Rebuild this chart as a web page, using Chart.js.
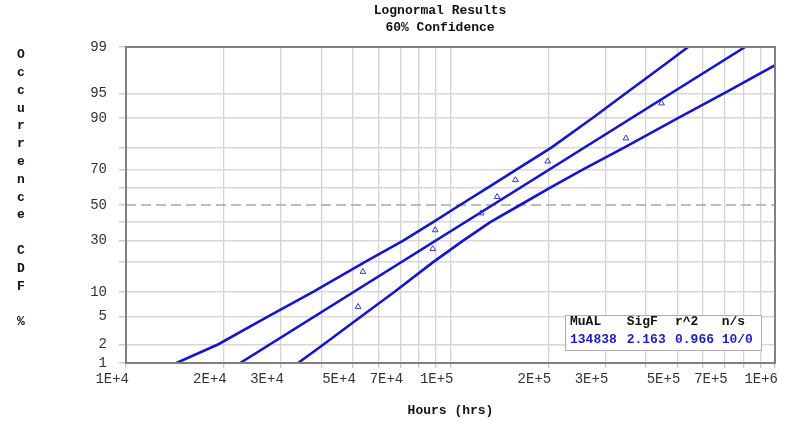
<!DOCTYPE html>
<html>
<head>
<meta charset="utf-8">
<script src="https://cdn.jsdelivr.net/npm/chart.js@4"></script>
<style>
html,body{margin:0;padding:0;background:#fff;}
#wrap{width:800px;height:429px;position:relative;}
</style>
</head>
<body>
<div id="wrap"><canvas id="c" width="800" height="429"></canvas></div>
<script>
// ---------- data ----------
const chartTitle = ['Lognormal Results', '60% Confidence'];
const yAxisTitle = 'Occurrence CDF %';
const xAxisTitle = 'Hours (hrs)';

const xTickValues = [10000,20000,30000,40000,50000,60000,70000,80000,90000,
                     100000,200000,300000,400000,500000,600000,700000,800000,900000,1000000];
const xTickLabels = ['1E+4','2E+4','3E+4','','5E+4','','7E+4','','',
                     '1E+5','2E+5','3E+5','','5E+5','','7E+5','','','1E+6'];

const yTickPcts   = [1,2,5,10,20,30,40,50,60,70,80,90,95,99];
const yTickLabels = ['1','2','5','10','','30','','50','','70','','90','95','99'];

const failureHours = [51900,53700,88200,89700,124300,139200,158500,199300,347200,446900];
const rankPcts     = [6.7,16.3,25.9,35.6,45.2,54.8,64.4,74.0,83.7,93.3];

const fitHours = [22470, 809000];
const fitPcts  = [1, 99];

const boundPcts       = [1,2,5,10,20,30,40,50,60,70,80,90,95,98,99];
const upperBoundHours = [14300,19200,27350,37600,54400,71500,88400,107000,130000,160000,204000,274000,347000,453000,540000];
const lowerBoundHours = [33900,40600,52900,67100,88400,109400,132600,163900,202400,256300,341600,503800,695900,998000,1270000];

const refPct = 50;

const statHeaders = ['MuAL','SigF','r^2','n/s'];
const statValues  = ['134838','2.163','0.966','10/0'];

// ---------- probability-paper transform ----------
function probit(p){
  const a=[-3.969683028665376e+01,2.209460984245205e+02,-2.759285104469687e+02,1.383577518672690e+02,-3.066479806614716e+01,2.506628277459239e+00];
  const b=[-5.447609879822406e+01,1.615858368580409e+02,-1.556989798598866e+02,6.680131188771972e+01,-1.328068155288572e+01];
  const c=[-7.784894002430293e-03,-3.223964580411365e-01,-2.400758277161838e+00,-2.549732539343734e+00,4.374664141464968e+00,2.938163982698783e+00];
  const d=[7.784695709041462e-03,3.224671290700398e-01,2.445134137142996e+00,3.754408661907416e+00];
  const pl=0.02425, ph=1-pl; let q,r;
  if(p<pl){q=Math.sqrt(-2*Math.log(p));return (((((c[0]*q+c[1])*q+c[2])*q+c[3])*q+c[4])*q+c[5])/((((d[0]*q+d[1])*q+d[2])*q+d[3])*q+1);}
  if(p<=ph){q=p-0.5;r=q*q;return (((((a[0]*r+a[1])*r+a[2])*r+a[3])*r+a[4])*r+a[5])*q/(((((b[0]*r+b[1])*r+b[2])*r+b[3])*r+b[4])*r+1);}
  q=Math.sqrt(-2*Math.log(1-p));return -(((((c[0]*q+c[1])*q+c[2])*q+c[3])*q+c[4])*q+c[5])/((((d[0]*q+d[1])*q+d[2])*q+d[3])*q+1);
}
const z = pct => probit(pct/100);
const pairs = (xs, ps) => xs.map((x,i)=>({x:x, y:z(ps[i])}));

const BLUE = '#1616c8';
const MONO = '"Liberation Mono", "Courier New", monospace';

const overlay = {
  id:'overlay',
  afterDraw(chart){
    const ctx = chart.ctx, a = chart.chartArea;
    ctx.save();
    // frame
    ctx.strokeStyle = '#808080'; ctx.lineWidth = 2;
    ctx.strokeRect(a.left, a.top, a.right-a.left, a.bottom-a.top);
    // title
    ctx.fillStyle = '#111';
    ctx.font = 'bold 13px ' + MONO;
    ctx.textAlign = 'center'; ctx.textBaseline = 'middle';
    ctx.fillText(chartTitle[0], 440, 11);
    ctx.fillText(chartTitle[1], 440, 28);
    // vertical y title, one character per line
    const chars = yAxisTitle.split('');
    chars.forEach((ch,i)=>{ ctx.fillText(ch, 21, 55 + i*17.8); });
    // stats box
    const bx=565, by=315, bw=196, bh=35;
    ctx.fillStyle = '#fff'; ctx.fillRect(bx,by,bw,bh);
    ctx.strokeStyle = '#b0b0b0'; ctx.lineWidth = 1;
    ctx.strokeRect(bx+0.5,by+0.5,bw,bh);
    const colX = [570, 626.7, 675, 721.7];
    ctx.textAlign = 'left';
    ctx.fillStyle = '#111';
    statHeaders.forEach((h,i)=>ctx.fillText(h, colX[i], 322));
    ctx.fillStyle = '#1c1cc4';
    statValues.forEach((v,i)=>ctx.fillText(v, colX[i], 339.5));
    ctx.restore();
  }
};

new Chart(document.getElementById('c'), {
  type:'scatter',
  data:{
    datasets:[
      { label:'data', data: pairs(failureHours, rankPcts), showLine:false,
        pointStyle:'triangle', pointRadius:3.3, pointBorderWidth:1,
        pointBorderColor:'#3a3ac8', pointBackgroundColor:'rgba(255,255,255,0)', order:0 },
      { label:'fit', data: pairs(fitHours, fitPcts), showLine:true, borderColor:BLUE,
        borderWidth:2.6, pointRadius:0, tension:0, order:1 },
      { label:'upper', data: pairs(upperBoundHours, boundPcts), showLine:true, borderColor:BLUE,
        borderWidth:2.6, pointRadius:0, tension:0, order:1 },
      { label:'lower', data: pairs(lowerBoundHours, boundPcts), showLine:true, borderColor:BLUE,
        borderWidth:2.6, pointRadius:0, tension:0, order:1 },
      { label:'ref', data: pairs([xTickValues[0], xTickValues[xTickValues.length-1]], [refPct, refPct]),
        showLine:true, borderColor:'#a8a8a8', borderWidth:1.6, borderDash:[10,5],
        pointRadius:0, order:5 }
    ]
  },
  options:{
    responsive:false, animation:false,
    layout:{ padding:{ left:0, right:25, top:47, bottom:0 } },
    plugins:{ legend:{display:false}, tooltip:{enabled:false}, title:{display:false} },
    scales:{
      x:{
        type:'logarithmic', min:xTickValues[0], max:xTickValues[xTickValues.length-1],
        afterBuildTicks: s => { s.ticks = xTickValues.map(v=>({value:v})); },
        afterFit: s => { s.height = 66; },
        ticks:{ autoSkip:false, maxRotation:0, minRotation:0, align:'end', labelOffset:3, padding:3,
          color:'#333', font:{family:MONO, size:14},
          callback:(v,i)=>xTickLabels[i] },
        grid:{ color:'#d4d4d4', lineWidth:1.3, tickLength:5, tickColor:'#c8c8c8' },
        border:{ display:false },
        title:{ display:true, text:xAxisTitle, color:'#111',
          font:{family:MONO, size:13, weight:'bold'}, padding:{top:0, bottom:10} }
      },
      y:{
        type:'linear', min:z(yTickPcts[0]), max:z(yTickPcts[yTickPcts.length-1]),
        afterBuildTicks: s => { s.ticks = yTickPcts.map(p=>({value:z(p)})); },
        afterFit: s => { s.width = 126; },
        ticks:{ autoSkip:false, padding:12, color:'#333', font:{family:MONO, size:14},
          callback:(v,i)=>yTickLabels[i] },
        grid:{ color: c => (c.tick && Math.abs(c.tick.value) < 1e-6) ? 'rgba(0,0,0,0)' : '#d8d8d8',
          lineWidth:1.5, tickLength:7, tickColor:'#cccccc' },
        border:{ display:false }
      }
    }
  },
  plugins:[overlay]
});
</script>
</body>
</html>
